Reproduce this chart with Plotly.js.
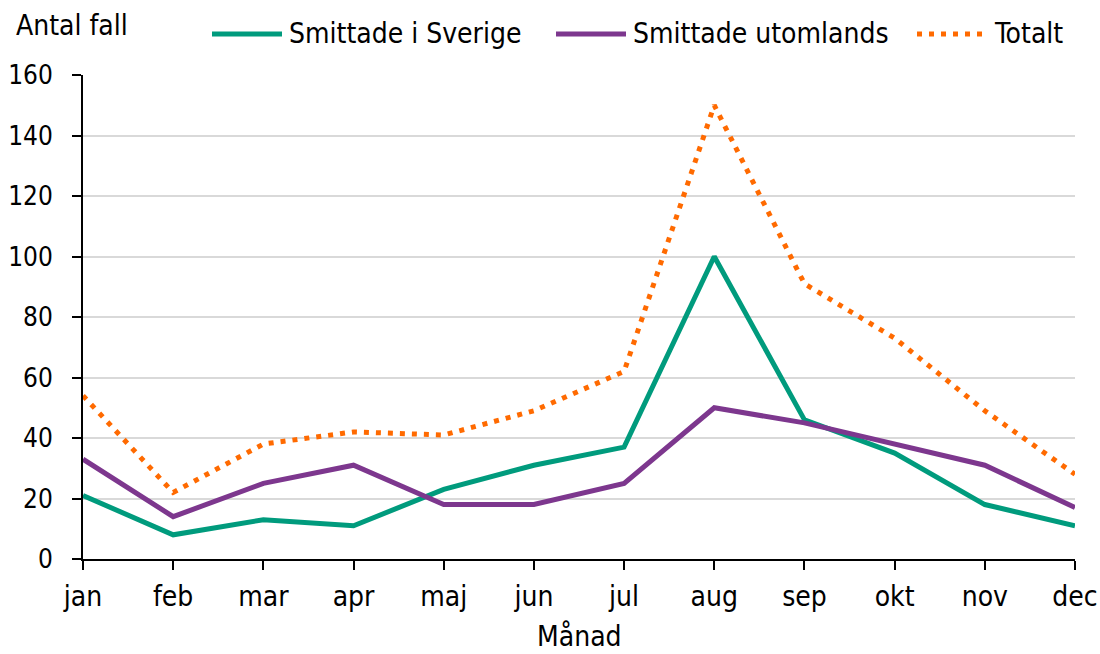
<!DOCTYPE html>
<html>
<head>
<meta charset="utf-8">
<script src="https://cdn.plot.ly/plotly-3.0.1.min.js"></script>
<style>html,body{margin:0;padding:0;background:#fff;}#chart{width:1100px;height:654px;}</style>
</head>
<body>
<div id="chart"></div>
<script>
const months = ["jan","feb","mar","apr","maj","jun","jul","aug","sep","okt","nov","dec"];
const smittadeSverige = [21, 8, 13, 11, 23, 31, 37, 100, 46, 35, 18, 11];
const smittadeUtomlands = [33, 14, 25, 31, 18, 18, 25, 50, 45, 38, 31, 17];
const totalt = [54, 22, 38, 42, 41, 49, 62, 150, 91, 73, 49, 28];
const yTicks = [0, 20, 40, 60, 80, 100, 120, 140, 160];
const seriesNames = ["Smittade i Sverige", "Smittade utomlands", "Totalt"];
const seriesColors = ["#009B7D", "#7D378E", "#FF6A00"];

const FONT = "DejaVu Sans Condensed, DejaVu Sans, sans-serif";
const FS = 28;
const FSY = 26;

const dashes = ["solid", "solid", "5px,7px"];
const traces = seriesNames.map((n, i) => ({
  x: months, y: [smittadeSverige, smittadeUtomlands, totalt][i],
  type: "scatter", mode: "lines", name: n, showlegend: false,
  line: {color: seriesColors[i], width: 5, dash: dashes[i]}
}));

// custom legend (longer line symbols as in reference), positions in paper coords
const W = 992, H = 484, L = 83, T = 75;
const px2x = p => (p - L) / W;
const px2y = p => (T + H - p) / H;
const legendItems = [
  {x0: 212, x1: 282, tx: 287, dash: "solid"},
  {x0: 556, x1: 626, tx: 631, dash: "solid"},
  {x0: 917, x1: 985, tx: 992, dash: "5px,7px"}
];
const legY = 34;
const shapes = [], annotations = [];
legendItems.forEach((it, i) => {
  shapes.push({type: "line", xref: "paper", yref: "paper",
    x0: px2x(it.x0), x1: px2x(it.x1), y0: px2y(legY), y1: px2y(legY),
    line: {color: seriesColors[i], width: 5, dash: it.dash}});
  annotations.push({text: seriesNames[i], xref: "paper", yref: "paper",
    x: px2x(it.tx), y: px2y(legY), xanchor: "left", yanchor: "middle", showarrow: false,
    font: {family: FONT, size: FS, color: "#000"}});
});
annotations.push({text: "Antal fall", xref: "paper", yref: "paper", x: px2x(14), y: px2y(25),
  xanchor: "left", yanchor: "middle", showarrow: false,
  font: {family: FONT, size: FS, color: "#000"}});
annotations.push({text: "Månad", xref: "paper", yref: "paper", x: 0.5, y: px2y(636),
  xanchor: "center", yanchor: "middle", showarrow: false,
  font: {family: FONT, size: FS, color: "#000"}});

const layout = {
  width: 1100, height: 654,
  margin: {l: 83, r: 25, t: 75, b: 95},
  paper_bgcolor: "#fff", plot_bgcolor: "#fff",
  font: {family: FONT, size: FS, color: "#000"},
  showlegend: false,
  xaxis: {type: "category", categoryorder: "array", categoryarray: months,
          range: [0, 11], showline: true, linecolor: "#000", linewidth: 2,
          ticks: "outside", ticklen: 9, tickwidth: 2, tickcolor: "#000",
          ticklabelstandoff: 2,
          showgrid: false, zeroline: false, tickfont: {family: FONT, size: FS}},
  yaxis: {range: [0, 160], tickvals: yTicks, showline: true, linecolor: "#000", linewidth: 2,
          ticks: "outside", ticklen: 9, tickwidth: 2, tickcolor: "#000",
          ticklabelstandoff: 14,
          showgrid: true, gridcolor: "#d9d9d9", gridwidth: 2, zeroline: false,
          tickfont: {family: FONT, size: FSY}},
  shapes: shapes,
  annotations: annotations
};

Plotly.newPlot("chart", traces, layout, {displayModeBar: false, staticPlot: true});
</script>
</body>
</html>
